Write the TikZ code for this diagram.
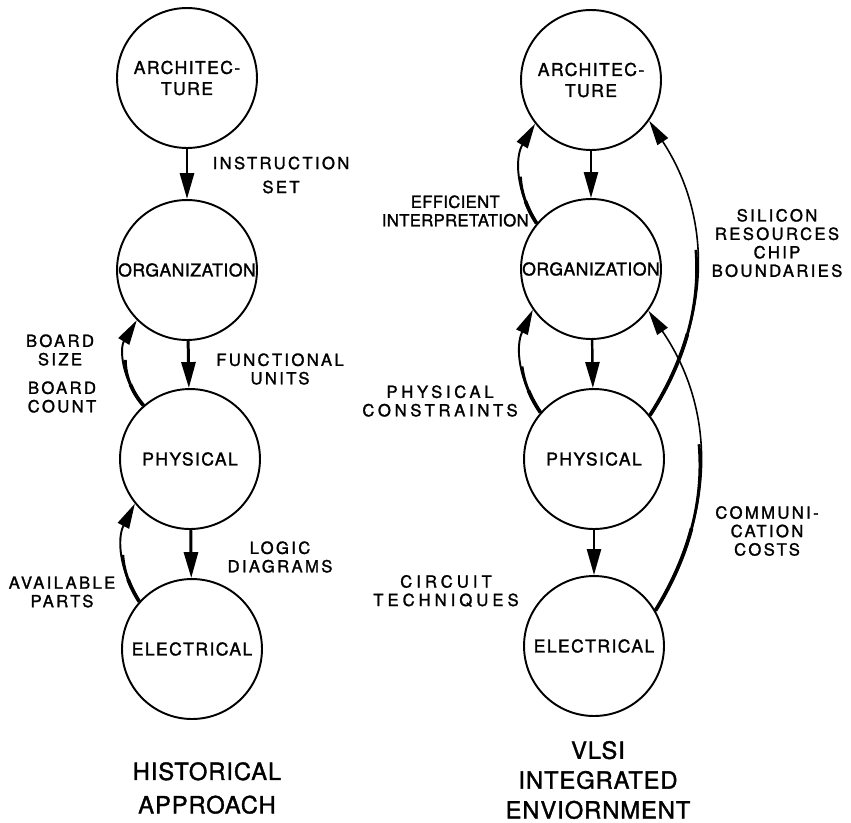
\documentclass[tikz,border=0pt]{standalone}
\usepackage{fontspec}
\setmainfont{TeX Gyre Heros}[LetterSpace=14,FakeBold=1.5]
\usetikzlibrary{arrows.meta}

\begin{document}
\begin{tikzpicture}[x=0.02cm,y=-0.02cm,
        stage/.style={circle,draw,line width=1.1pt,minimum size=2.8cm,inner sep=0pt,
            align=center,font=\fontsize{10}{12}\selectfont\addfontfeature{LetterSpace=8}},
        lbl/.style={align=center,inner sep=0pt,font=\fontsize{9.5}{10.5}\selectfont},
        ttl/.style={align=center,inner sep=0pt,
            font=\fontsize{13.5}{17}\selectfont\addfontfeature{LetterSpace=4}},
        flow/.style={line width=#1,-{Triangle[length=5.2mm,width=2.8mm]}},
        fback/.style={line width=#1,-{Triangle[length=5mm,width=2.5mm]}},
        taper/.style 2 args={postaction={draw,-,line width=1.6pt,dash pattern=on #1 off 30cm},
            postaction={draw,-,line width=2.1pt,dash pattern=on #2 off 30cm}}]
    \useasboundingbox (0,0) rectangle (851,822);

    % historical approach
    \node[stage] (arL) at (187,78) {ARCHITEC-\\TURE};
    \node[stage] (orL) at (187,270) {\addfontfeature{LetterSpace=3}ORGANIZATION};
    \node[stage] (phL) at (190,459) {PHYSICAL};
    \node[stage] (elL) at (192,649) {ELECTRICAL};

    \draw[flow=1.7pt] (arL) -- (orL);
    \draw[flow=1.7pt] (orL) -- (phL);
    \draw[flow=1.7pt] (phL) -- (elL);
    \draw[fback=1.1pt,taper={1cm}{0.5cm}] (phL.131) to[bend left=36] (orL.225);
    \draw[fback=1.1pt,taper={1cm}{0.5cm}] (elL.138) to[bend left=30] (phL.219);

    \node[lbl] (instr) at (281,175) {INSTRUCTION\\[1.1mm]SET};
    \node[lbl] (bsize) at (60,350) {BOARD\\SIZE};
    \node[lbl] (bcount) at (62,397) {BOARD\\COUNT};
    \node[lbl] (funits) at (280,369) {FUNCTIONAL\\UNITS};
    \node[lbl] (logic) at (280,557) {LOGIC\\DIAGRAMS};
    \node[lbl] (parts) at (62,592) {AVAILABLE\\PARTS};

    \node[ttl] (hist) at (207,788) {HISTORICAL\\[2pt]APPROACH};

    % vlsi environment
    \node[stage] (arR) at (591,80) {ARCHITEC-\\TURE};
    \node[stage] (orR) at (591,269) {\addfontfeature{LetterSpace=3}ORGANIZATION};
    \node[stage] (phR) at (594,459) {PHYSICAL};
    \node[stage] (elR) at (594,646) {ELECTRICAL};

    \draw[flow=1.4pt] (arR) -- (orR);
    \draw[flow=1.4pt] (orR) -- (phR);
    \draw[flow=1.4pt] (phR) -- (elR);
    \draw[fback=1.1pt,taper={1cm}{0.5cm}] (orR.140) to[bend left=32] (arR.218);
    \draw[fback=1.1pt,taper={1cm}{0.5cm}] (phR.139) to[bend left=30] (orR.215);
    \draw[fback=0.9pt,taper={3.5cm}{1.8cm}] (phR.38) to[bend right=33] (arR.-35);
    \draw[fback=0.9pt,taper={3.5cm}{1.8cm}] (elR.30) to[bend right=33] (orR.-36);

    \node[lbl,anchor=east] (effic) at (529,211)
        {\addfontfeature{LetterSpace=2}EFFICIENT\\\addfontfeature{LetterSpace=2}INTERPRETATION};
    \node[lbl,anchor=east] (pcons) at (518,401)
        {\addfontfeature{LetterSpace=22}PHYSICAL\\\addfontfeature{LetterSpace=22}CONSTRAINTS};
    \node[lbl,anchor=east] (ctech) at (519,591)
        {\addfontfeature{LetterSpace=24}CIRCUIT\\\addfontfeature{LetterSpace=24}TECHNIQUES};
    \node[lbl] (silicon) at (777,243) {SILICON\\RESOURCES\\CHIP\\BOUNDARIES};
    \node[lbl] (comm) at (767,531) {COMMUNI-\\CATION\\COSTS};

    \node[ttl] (vlsi) at (598,780) {VLSI\\INTEGRATED\\ENVIORNMENT};
\end{tikzpicture}
\end{document}
